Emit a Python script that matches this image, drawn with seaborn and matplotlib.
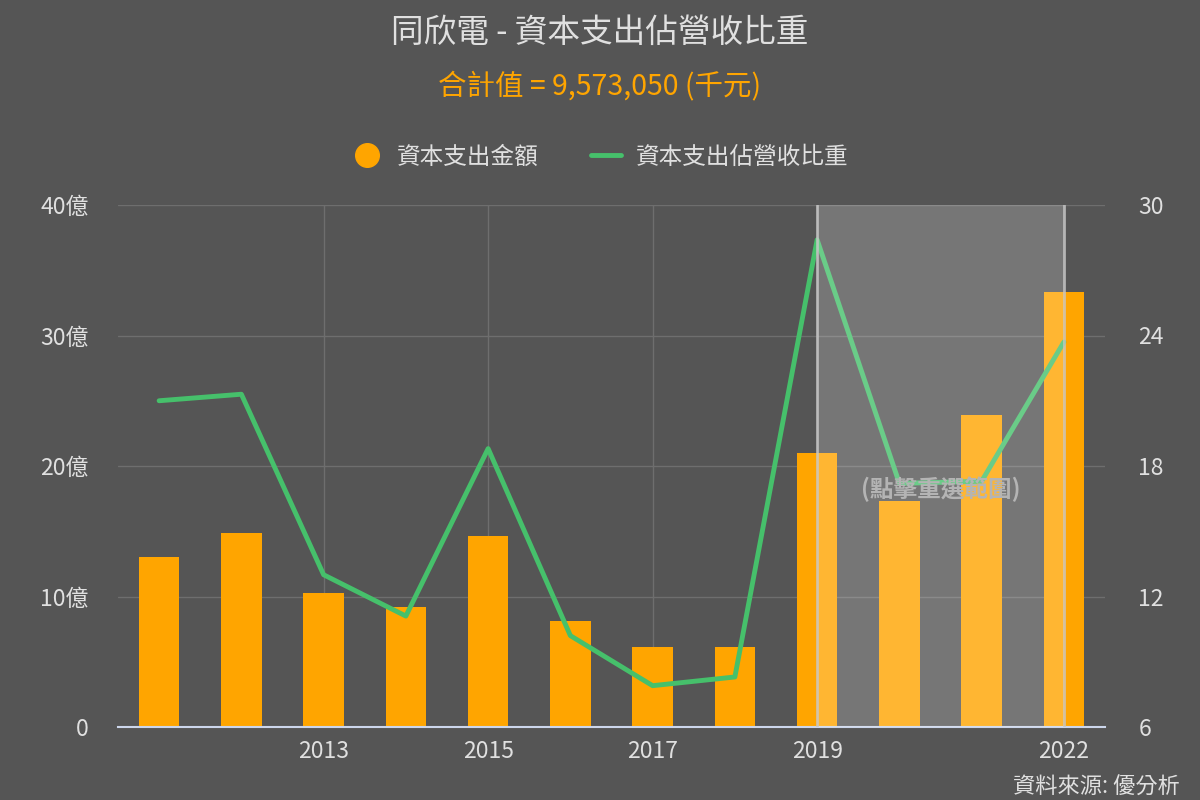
import numpy as np
import pandas as pd
import matplotlib
matplotlib.use("Agg")
import matplotlib.pyplot as plt
import seaborn as sns
from matplotlib.lines import Line2D

# data
years = [2011, 2012, 2013, 2014, 2015, 2016, 2017, 2018, 2019, 2020, 2021, 2022]
capex = [13.0, 14.9, 10.3, 9.2, 14.6, 8.1, 6.1, 6.1, 21.0, 17.3, 23.9, 33.3]  # 億
ratio = [21.0, 21.3, 13.0, 11.1, 18.8, 10.2, 7.9, 8.3, 28.4, 17.2, 17.3, 23.7]  # %
left_ticks = [0, 10, 20, 30, 40]
left_labels = ["0", "10億", "20億", "30億", "40億"]
right_ticks = [6, 12, 18, 24, 30]
x_ticks = [2013, 2015, 2017, 2019, 2022]
sel_start, sel_end = 2019, 2022

df = pd.DataFrame({"year": years, "capex": capex, "ratio": ratio})

bg = "#555555"
orange = "#FFA500"
green = "#46C06B"
txt = "#E0E0E0"

sns.set_theme(style="dark")
plt.rcParams["font.family"] = ["Noto Sans CJK TC", "DejaVu Sans"]

fig = plt.figure(figsize=(12, 8), dpi=100, facecolor=bg)
ax = fig.add_axes([118 / 1200, 1 - 727 / 800, (1105 - 118) / 1200, (727 - 205) / 800])
ax.set_facecolor(bg)

sns.barplot(data=df, x="year", y="capex", native_scale=True, color=orange,
            saturation=1, width=0.49, linewidth=0, edgecolor="none", ax=ax, zorder=2)
ax.set_xlim(2010.5, 2022.5)
ax.set_ylim(0, 40)
ax.set_yticks(left_ticks)
ax.set_yticklabels(left_labels)
ax.set_xticks(x_ticks)
ax.set_xticklabels([str(y) for y in x_ticks])
ax.set_xlabel("")
ax.set_ylabel("")
ax.grid(True, color="#6E6E6E", lw=1, zorder=0)
ax.set_axisbelow(True)
for s in ["top", "left", "right"]:
    ax.spines[s].set_visible(False)
ax.spines["bottom"].set_color("#CCD6EB")
ax.spines["bottom"].set_linewidth(1.5)
ax.tick_params(axis="both", length=0, colors=txt, labelsize=16.5)
ax.tick_params(axis="y", pad=21)
ax.tick_params(axis="x", pad=9)

ax2 = ax.twinx()
sns.lineplot(data=df, x="year", y="ratio", color=green, lw=3.5, ax=ax2, zorder=3)
ax2.set_ylim(6, 30)
ax2.set_yticks(right_ticks)
ax2.set_xlim(2010.5, 2022.5)
ax2.set_ylabel("")
ax2.grid(False)
for s in ax2.spines.values():
    s.set_visible(False)
ax2.tick_params(axis="y", length=0, colors=txt, labelsize=16.5, pad=24)

# selected range overlay
ax2.axvspan(sel_start, sel_end, color="white", alpha=0.2, lw=0, zorder=5)
for xv in [sel_start, sel_end]:
    ax2.axvline(xv, color="#C8C8C8", lw=2, alpha=0.8, zorder=6)
ax2.text((sel_start + sel_end) / 2, 0.455, "(點擊重選範圍)", transform=ax2.get_xaxis_transform(),
         ha="center", va="center", fontsize=17, fontweight="bold", color="#B4B4B4", zorder=7)

fig.text(0.5, 1 - 33 / 800, "同欣電 - 資本支出佔營收比重", ha="center", va="center",
         fontsize=23.5, color=txt)
fig.text(0.5, 1 - 86 / 800, "合計值 = 9,573,050 (千元)", ha="center", va="center",
         fontsize=20.5, color=orange)
fig.text(1180 / 1200, 1 - 787 / 800, "資料來源: 優分析", ha="right", va="center",
         fontsize=16, color=txt)

handles = [Line2D([], [], marker="o", ls="none", color=orange, markersize=17),
           Line2D([], [], color=green, lw=3.5)]
fig.legend(handles, ["資本支出金額", "資本支出佔營收比重"], loc="center",
           bbox_to_anchor=(0.5, 1 - 157 / 800), ncol=2, frameon=False,
           labelcolor=txt, fontsize=17, handlelength=1.3, handletextpad=0.6,
           columnspacing=2.2)

fig.savefig("out.png", dpi=100, facecolor=bg)
